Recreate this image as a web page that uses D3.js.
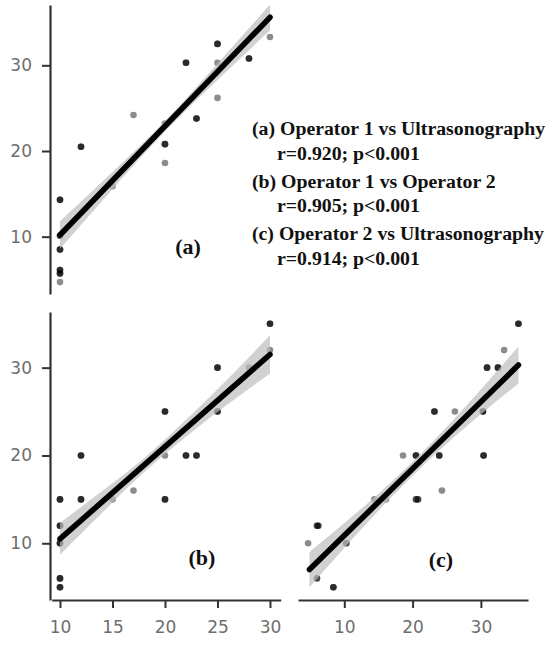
<!DOCTYPE html>
<html><head><meta charset="utf-8">
<script src="https://cdn.jsdelivr.net/npm/d3@7/dist/d3.min.js"></script>
<style>
html,body{margin:0;padding:0;background:#fff;}
svg{display:block;}
</style></head>
<body>
<script>
// ---- Data ----
// Panel (a): Operator 1 vs Ultrasonography  (n = overlapping observations)
const aX = [10, 10, 10, 10, 10, 10, 12, 15, 17, 20, 20, 20, 22, 23, 25, 25, 25, 28, 30];
const aY = [14.3, 10.1, 8.5, 6.1, 5.7, 4.7, 20.5, 15.9, 24.2, 20.8, 18.6, 23.2, 30.3, 23.8, 32.5, 30.3, 26.2, 30.8, 33.3];
const aN = [3, 2, 3, 3, 3, 1, 3, 1, 1, 3, 1, 1, 3, 3, 3, 1, 1, 3, 1];
const aFitX = [10, 30], aFitY = [10.2, 35.6];
const aBandX = [10, 15, 20, 25, 30], aBandHalf = [1.6, 1.0, 0.6, 0.95, 1.5];

// Panel (b): Operator 1 vs Operator 2
const bX = [10, 10, 10, 10, 10, 12, 12, 15, 17, 20, 20, 20, 22, 23, 25, 25, 28, 30, 30];
const bY = [15, 12, 10, 6, 5, 20, 15, 15, 16, 25, 20, 15, 20, 20, 30, 25, 30, 35, 32];
const bN = [3, 3, 3, 3, 3, 3, 3, 1, 1, 3, 1, 3, 3, 3, 3, 3, 1, 3, 1];
const bFitX = [10, 30], bFitY = [10.5, 31.5];
const bBandX = [10, 15, 19, 25, 30], bBandHalf = [1.8, 1.1, 0.8, 1.3, 2.2];

// Panel (c): Operator 2 vs Ultrasonography
const cX = [4.7, 6.0, 6.2, 6.0, 8.4, 10.3, 14.4, 16.1, 18.6, 20.5, 20.5, 20.8, 23.2, 23.9, 24.3, 26.2, 30.3, 30.4, 30.9, 32.5, 33.4, 35.5];
const cY = [10, 12, 12, 6, 5, 10, 15, 15, 20, 20, 15, 15, 25, 20, 16, 25, 25, 20, 30, 30, 32, 35];
const cN = [1, 2, 2, 2, 3, 2, 1, 1, 1, 3, 2, 2, 3, 3, 1, 1, 3, 3, 3, 3, 1, 3];
const cFitX = [4.9, 35.5], cFitY = [7.0, 30.3];
const cBandX = [4.9, 12, 20, 28, 35.5], cBandHalf = [2.0, 1.2, 0.8, 1.2, 2.1];

const ticksAY = [10, 20, 30];
const ticksBY = [10, 20, 30];
const ticksBX = [10, 15, 20, 25, 30];
const ticksCX = [10, 20, 30];

const panelLabels = ["(a)", "(b)", "(c)"];
const legendTitles = ["(a) Operator 1 vs Ultrasonography", "(b) Operator 1 vs Operator 2", "(c) Operator 2 vs Ultrasonography"];
const legendStats = ["r=0.920; p<0.001", "r=0.905; p<0.001", "r=0.914; p<0.001"];

// ---- Drawing ----
const W = 550, H = 646;
const svg = d3.select("body").append("svg").attr("width", W).attr("height", H);

const xAB = d3.scaleLinear().domain([9.21, 31.02]).range([51.7, 280.7]);
const yA = d3.scaleLinear().domain([3.31, 37.04]).range([294, 5]);
const yBC = d3.scaleLinear().domain([3.54, 36.34]).range([600, 312]);
const xC = d3.scaleLinear().domain([3.22, 36.9]).range([298, 528]);

function styleAxis(g) {
  g.select(".domain").attr("stroke", "#333").attr("stroke-width", 2.2);
  g.selectAll(".tick line").attr("stroke", "#333").attr("stroke-width", 2);
  g.selectAll(".tick text").attr("fill", "#6e6e6e")
    .attr("font-family", "'DejaVu Sans', sans-serif").attr("font-size", 17);
}

function panel(xs, ys, X, Y, N, fitX, fitY, bandX, bandHalf) {
  const g = svg.append("g");
  const slope = (fitY[1] - fitY[0]) / (fitX[1] - fitX[0]);
  const fitAt = x => fitY[0] + slope * (x - fitX[0]);
  const bandData = bandX.map((x, i) => ({x, lo: fitAt(x) - bandHalf[i], hi: fitAt(x) + bandHalf[i]}));
  const pts = [];
  X.forEach((x, i) => { for (let k = 0; k < N[i]; k++) pts.push({x, y: Y[i]}); });
  g.append("g").selectAll("circle").data(pts).join("circle")
    .attr("cx", d => xs(d.x)).attr("cy", d => ys(d.y)).attr("r", 3.3)
    .attr("fill", "#000").attr("fill-opacity", 0.45);
  g.append("path").datum(bandData)
    .attr("d", d3.area().x(d => xs(d.x)).y0(d => ys(d.lo)).y1(d => ys(d.hi)).curve(d3.curveNatural))
    .attr("fill", "#bdbdbd").attr("fill-opacity", 0.7);
  g.append("path").datum(fitX.map((x, i) => [x, fitY[i]]))
    .attr("d", d3.line().x(d => xs(d[0])).y(d => ys(d[1])))
    .attr("stroke", "#000").attr("stroke-width", 5.6).attr("fill", "none").attr("stroke-linecap", "round");
}

panel(xAB, yA, aX, aY, aN, aFitX, aFitY, aBandX, aBandHalf);
panel(xAB, yBC, bX, bY, bN, bFitX, bFitY, bBandX, bBandHalf);
panel(xC, yBC, cX, cY, cN, cFitX, cFitY, cBandX, cBandHalf);

// axes
svg.append("g").attr("transform", "translate(50,0)")
  .call(d3.axisLeft(yA).tickValues(ticksAY).tickSize(8).tickSizeOuter(0).tickPadding(10).tickFormat(d3.format("d")))
  .call(styleAxis);
svg.append("g").attr("transform", "translate(50,0)")
  .call(d3.axisLeft(yBC).tickValues(ticksBY).tickSize(8).tickSizeOuter(0).tickPadding(10).tickFormat(d3.format("d")))
  .call(styleAxis);
svg.append("g").attr("transform", "translate(0,600)")
  .call(d3.axisBottom(xAB).tickValues(ticksBX).tickSize(8).tickSizeOuter(0).tickPadding(13).tickFormat(d3.format("d")))
  .call(styleAxis);
svg.append("g").attr("transform", "translate(0,600)")
  .call(d3.axisBottom(xC).tickValues(ticksCX).tickSize(8).tickSizeOuter(0).tickPadding(13).tickFormat(d3.format("d")))
  .call(styleAxis);

// panel labels
const serif = "'Liberation Serif', 'Times New Roman', serif";
const labelPos = [[188, 254], [202, 565], [441, 567]];
svg.append("g").selectAll("text").data(panelLabels).join("text")
  .attr("x", (d, i) => labelPos[i][0]).attr("y", (d, i) => labelPos[i][1])
  .attr("text-anchor", "middle").attr("font-family", serif).attr("font-weight", "bold")
  .attr("font-size", 22).attr("fill", "#111").text(d => d);

// legend
const leg = svg.append("g").attr("font-family", serif).attr("font-weight", "bold")
  .attr("font-size", 19.8).attr("fill", "#111");
const titleY = [135, 187.5, 239.5], statY = [160, 212, 265];
legendTitles.forEach((t, i) => {
  leg.append("text").attr("x", 252).attr("y", titleY[i]).text(t);
  leg.append("text").attr("x", 277).attr("y", statY[i]).text(legendStats[i]);
});
</script>
</body></html>
